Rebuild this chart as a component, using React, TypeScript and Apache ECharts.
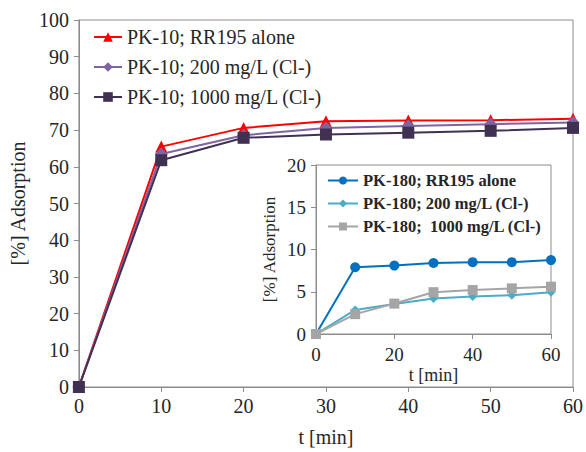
import React, { useEffect, useRef } from "react";
import * as echarts from "echarts";

const mainTimes = [0, 10, 20, 30, 40, 50, 60];
const mainAlone = [0, 65.5, 70.6, 72.4, 72.6, 72.7, 73.1];
const main200 = [0, 63.5, 68.6, 70.6, 71.1, 71.6, 72.1];
const main1000 = [0, 61.8, 67.9, 68.8, 69.3, 69.8, 70.6];

const insetTimes = [0, 10, 20, 30, 40, 50, 60];
const insetAlone = [0, 7.9, 8.1, 8.4, 8.5, 8.5, 8.75];
const inset200 = [0, 2.85, 3.55, 4.2, 4.45, 4.6, 4.95];
const inset1000 = [0, 2.35, 3.6, 4.95, 5.2, 5.4, 5.6];

const mainNames = ["PK-10; RR195 alone", "PK-10; 200 mg/L (Cl-)", "PK-10; 1000 mg/L (Cl-)"];
const insetNames = ["PK-180; RR195 alone", "PK-180; 200 mg/L (Cl-)", "PK-180;  1000 mg/L (Cl-)"];

const FONT = '"Liberation Serif", "Times New Roman", serif';
const TXT = "#262626";
const AX = "#8c8c8c";

const pairs = (xs: number[], ys: number[]) => xs.map((x, i) => [x, ys[i]]);

export default function App() {
  const ref = useRef<HTMLDivElement>(null);
  useEffect(() => {
    if (!ref.current) return;
    const chart = echarts.init(ref.current, null, { renderer: "svg" });
    const axisCommon = {
      axisLine: { show: true, lineStyle: { color: AX, width: 1 } },
      axisTick: { show: true, inside: false, length: 5, lineStyle: { color: AX } },
      splitLine: { show: false },
      nameLocation: "middle" as const,
    };
    chart.setOption({
      animation: false,
      backgroundColor: "#fff",
      textStyle: { fontFamily: FONT },
      grid: [
        { left: 78, top: 20, width: 496, height: 373, show: true, borderColor: AX, borderWidth: 1, backgroundColor: "transparent" },
        { left: 316, top: 165, width: 235, height: 169, show: true, borderColor: AX, borderWidth: 1, backgroundColor: "#fff" },
      ],
      xAxis: [
        {
          ...axisCommon, gridIndex: 0, type: "value", min: 0, max: 60, interval: 10,
          name: "t [min]", nameGap: 40,
          nameTextStyle: { fontSize: 20, color: TXT, fontFamily: FONT },
          axisLabel: { fontSize: 20, color: TXT, fontFamily: FONT, margin: 9 },
        },
        {
          ...axisCommon, gridIndex: 1, type: "value", min: 0, max: 60, interval: 20,
          name: "t [min]", nameGap: 32,
          nameTextStyle: { fontSize: 18, color: TXT, fontFamily: FONT },
          axisLabel: { fontSize: 19, color: TXT, fontFamily: FONT, margin: 11 },
        },
      ],
      yAxis: [
        {
          ...axisCommon, gridIndex: 0, type: "value", min: 0, max: 100, interval: 10,
          name: "[%] Adsorption", nameGap: 50,
          nameTextStyle: { fontSize: 20, color: TXT, fontFamily: FONT },
          axisLabel: { fontSize: 20, color: TXT, fontFamily: FONT, margin: 10 },
        },
        {
          ...axisCommon, gridIndex: 1, type: "value", min: 0, max: 20, interval: 5,
          name: "[%] Adsorption", nameGap: 38,
          nameTextStyle: { fontSize: 17, color: TXT, fontFamily: FONT },
          axisLabel: { fontSize: 19, color: TXT, fontFamily: FONT, margin: 10 },
        },
      ],
      legend: [
        {
          data: mainNames, orient: "vertical", left: 88, top: 21,
          itemWidth: 28, itemHeight: 12, itemGap: 8,
          textStyle: { fontSize: 20, color: TXT, fontFamily: FONT, lineHeight: 22 },
        },
        {
          data: insetNames, orient: "vertical", left: 322, top: 166,
          itemWidth: 30, itemHeight: 10, itemGap: 4,
          textStyle: { fontSize: 16.5, color: TXT, fontFamily: FONT, lineHeight: 19, fontWeight: "bold" },
        },
      ],
      series: [
        { name: mainNames[0], type: "line", xAxisIndex: 0, yAxisIndex: 0, data: pairs(mainTimes, mainAlone),
          symbol: "triangle", symbolSize: 12, color: "#ff0000", lineStyle: { width: 2, color: "#ff0000" }, itemStyle: { color: "#ff0000" } },
        { name: mainNames[1], type: "line", xAxisIndex: 0, yAxisIndex: 0, data: pairs(mainTimes, main200),
          symbol: "diamond", symbolSize: 13, color: "#8064a2", lineStyle: { width: 2, color: "#8064a2" }, itemStyle: { color: "#8064a2" } },
        { name: mainNames[2], type: "line", xAxisIndex: 0, yAxisIndex: 0, data: pairs(mainTimes, main1000),
          symbol: "rect", symbolSize: 12, color: "#403152", lineStyle: { width: 2, color: "#403152" }, itemStyle: { color: "#403152" } },
        { name: insetNames[0], type: "line", xAxisIndex: 1, yAxisIndex: 1, data: pairs(insetTimes, insetAlone),
          symbol: "circle", symbolSize: 10, color: "#0070c0", lineStyle: { width: 2, color: "#0070c0" }, itemStyle: { color: "#0070c0" } },
        { name: insetNames[1], type: "line", xAxisIndex: 1, yAxisIndex: 1, data: pairs(insetTimes, inset200),
          symbol: "diamond", symbolSize: 9, color: "#4bacc6", lineStyle: { width: 2, color: "#4bacc6" }, itemStyle: { color: "#4bacc6" } },
        { name: insetNames[2], type: "line", xAxisIndex: 1, yAxisIndex: 1, data: pairs(insetTimes, inset1000),
          symbol: "rect", symbolSize: 10, color: "#a5a5a5", lineStyle: { width: 2, color: "#a5a5a5" }, itemStyle: { color: "#a5a5a5" } },
      ],
    });
    return () => chart.dispose();
  }, []);
  return <div ref={ref} style={{ position: "absolute", left: 0, top: 0, width: 586, height: 452 }} />;
}
